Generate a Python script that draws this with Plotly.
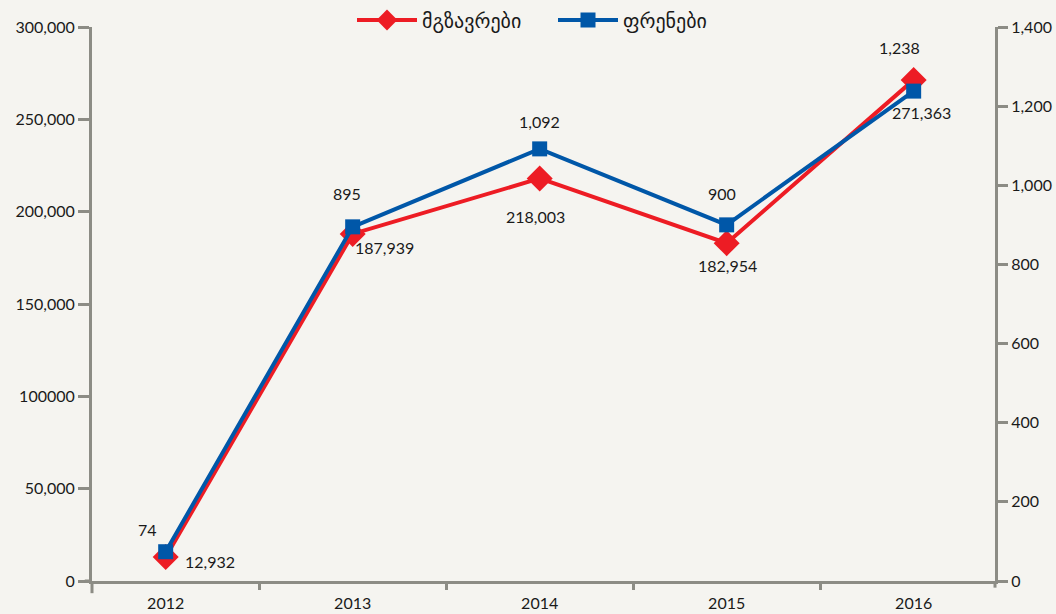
import plotly.graph_objects as go

years = ["2012", "2013", "2014", "2015", "2016"]
passengers = [12932, 187939, 218003, 182954, 271363]
flights = [74, 895, 1092, 900, 1238]
passenger_labels = ["12,932", "187,939", "218,003", "182,954", "271,363"]
flight_labels = ["74", "895", "1,092", "900", "1,238"]
left_ticks = [0, 50000, 100000, 150000, 200000, 250000, 300000]
left_ticktext = ["0", "50,000", "100000", "150,000", "200,000", "250,000", "300,000"]
right_ticks = [0, 200, 400, 600, 800, 1000, 1200, 1400]
right_ticktext = ["0", "200", "400", "600", "800", "1,000", "1,200", "1,400"]
name_passengers = "მგზავრები"
name_flights = "ფრენები"

# label offsets (pixels) for data labels
p_off = [(44, -4), (32, -14), (-4, -38), (1, -22), (8, -33)]
f_off = [(-18, 22), (-6, 33), (0, 27), (-5, 31), (-14, 44)]

RED = "#ed1c24"
BLUE = "#0057a8"
GRAY = "#8c8c85"
BG = "#f5f4f0"
TXT = "#1a1a1a"
NUMFONT = "Lato, Open Sans, DejaVu Sans, sans-serif"
GEOFONT = "DejaVu Sans, Noto Sans, sans-serif"

xs = list(range(len(years)))

fig = go.Figure()
fig.add_trace(go.Scatter(
    x=xs, y=passengers, name=name_passengers, mode="lines+markers",
    line=dict(color=RED, width=4),
    marker=dict(symbol="diamond", size=20, color=RED),
    yaxis="y", cliponaxis=False,
))
fig.add_trace(go.Scatter(
    x=xs, y=flights, name=name_flights, mode="lines+markers",
    line=dict(color=BLUE, width=4),
    marker=dict(symbol="square", size=15, color=BLUE),
    yaxis="y2", cliponaxis=False,
))

annotations = []
for i, (v, t) in enumerate(zip(passengers, passenger_labels)):
    annotations.append(dict(x=xs[i], y=v, xref="x", yref="y", text=t, showarrow=False,
                            xshift=p_off[i][0], yshift=p_off[i][1],
                            font=dict(family=NUMFONT, size=16, color=TXT)))
for i, (v, t) in enumerate(zip(flights, flight_labels)):
    annotations.append(dict(x=xs[i], y=v, xref="x", yref="y2", text=t, showarrow=False,
                            xshift=f_off[i][0], yshift=f_off[i][1],
                            font=dict(family=NUMFONT, size=16, color=TXT)))

fig.update_layout(
    width=1056, height=614,
    margin=dict(l=92, r=61, t=27, b=33, autoexpand=False),
    paper_bgcolor=BG, plot_bgcolor=BG,
    showlegend=True,
    legend=dict(orientation="h", xref="container", yref="container",
                x=352 / 1056, xanchor="left", y=1 - 20 / 614, yanchor="middle",
                font=dict(family=GEOFONT, size=20, color=TXT),
                bgcolor="rgba(0,0,0,0)", itemwidth=60, entrywidth=126,
                entrywidthmode="pixels"),
    xaxis=dict(
        range=[-0.394, 4.435], tickvals=xs, ticktext=years, showgrid=False, zeroline=False,
        showline=True, linecolor=GRAY, linewidth=3, ticks="", ticklabelstandoff=6,
        automargin=False,
        tickfont=dict(family=NUMFONT, size=16, color=TXT),
        minor=dict(tickvals=[0.5, 1.5, 2.5, 3.5], ticks="outside", ticklen=6,
                   tickwidth=3, tickcolor=GRAY),
    ),
    yaxis=dict(
        range=[0, 300000], tickvals=left_ticks, ticktext=left_ticktext, showgrid=False,
        zeroline=False, showline=True, linecolor=GRAY, linewidth=3, ticks="outside",
        ticklen=11, tickwidth=3, tickcolor=GRAY, automargin=False,
        tickfont=dict(family=NUMFONT, size=16, color=TXT),
    ),
    yaxis2=dict(
        range=[0, 1400], tickvals=right_ticks, ticktext=right_ticktext, overlaying="y",
        side="right", showgrid=False, zeroline=False, showline=True, linecolor=GRAY,
        linewidth=3, ticks="outside", ticklen=10, tickwidth=3, tickcolor=GRAY,
        automargin=False,
        tickfont=dict(family=NUMFONT, size=16, color=TXT),
    ),
    annotations=annotations,
    shapes=[
        dict(type="line", xref="paper", yref="paper", x0=-0.008, x1=0, y0=0, y1=0,
             line=dict(color=GRAY, width=3)),
        dict(type="line", xref="paper", yref="paper", x0=0, x1=0, y0=0, y1=-0.022,
             line=dict(color=GRAY, width=3)),
        dict(type="line", xref="paper", yref="paper", x0=1, x1=1, y0=0, y1=-0.012,
             line=dict(color=GRAY, width=3)),
    ],
)

fig.write_html(
    "out.html",
    config={"displayModeBar": False},
    post_script="document.body.style.margin='0';document.body.style.overflow='hidden';",
)
